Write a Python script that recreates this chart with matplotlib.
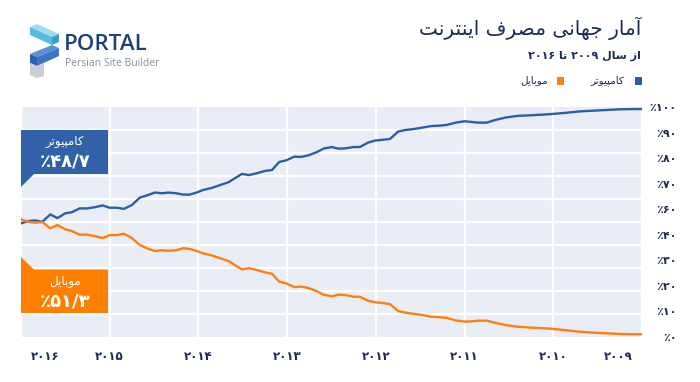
import matplotlib
matplotlib.use("Agg")
import matplotlib.pyplot as plt
import matplotlib.transforms as mtransforms
import numpy as np
from matplotlib.patches import Polygon, Rectangle

# ---------------- data ----------------
years = [2016.00, 2015.92, 2015.84, 2015.76, 2015.67, 2015.59, 2015.50, 2015.43, 2015.34, 2015.26,
         2015.17, 2015.08, 2015.00, 2014.92, 2014.84, 2014.75, 2014.66, 2014.57, 2014.49, 2014.41,
         2014.34, 2014.25, 2014.17, 2014.10, 2014.02, 2013.95, 2013.85, 2013.76, 2013.66, 2013.59,
         2013.51, 2013.43, 2013.34, 2013.25, 2013.17, 2013.09, 2013.01, 2012.92, 2012.84, 2012.76,
         2012.67, 2012.59, 2012.50, 2012.42, 2012.35, 2012.25, 2012.18, 2012.09, 2012.01, 2011.93,
         2011.84, 2011.75, 2011.67, 2011.58, 2011.48, 2011.38, 2011.28, 2011.20, 2011.10, 2011.00,
         2010.92, 2010.85, 2010.75, 2010.66, 2010.54, 2010.41, 2010.26, 2010.11, 2010.00, 2009.85,
         2009.70, 2009.55, 2009.40, 2009.25, 2009.10, 2009.00]
computer = [49.4, 50.4, 50.7, 50.1, 53.3, 51.7, 53.8, 54.2, 55.9, 55.9, 56.4, 57.2, 56.2, 56.2, 55.7,
            57.4, 60.6, 61.7, 62.8, 62.5, 62.8,
            62.5, 61.9, 61.9, 62.8, 63.9, 64.8, 66.0, 67.3, 69.0, 70.9, 70.4, 71.2, 72.2, 72.6, 76.1,
            76.8, 78.4, 78.3, 79.0, 80.3, 81.9,
            82.6, 81.9, 82.0, 82.6, 82.6, 84.5, 85.4, 85.7, 86.1, 89.3, 90.0, 90.4, 91.0, 91.7, 91.9,
            92.2, 93.2, 93.8, 93.5, 93.2,
            93.2, 94.3, 95.4, 96.1, 96.4, 96.7, 97.0, 97.5, 98.1, 98.4, 98.7, 99.0, 99.1, 99.1]
mobile = [51.2, 50.1, 49.7, 50.0, 47.2, 48.7, 46.8, 46.1, 44.5, 44.5, 43.9, 43.0, 44.3, 44.3, 44.9,
          43.0, 40.0, 38.4, 37.4, 37.7, 37.5,
          37.7, 38.6, 38.3, 37.4, 36.4, 35.5, 34.3, 33.0, 31.3, 29.4, 29.9, 29.1, 28.1, 27.5, 24.1,
          23.3, 21.7, 21.9, 21.3, 20.0, 18.4,
          17.7, 18.4, 18.3, 17.5, 17.5, 15.8, 15.1, 14.8, 14.3, 11.3, 10.6, 10.1, 9.6, 8.8, 8.6,
          8.3, 7.2, 6.7, 6.8, 7.1,
          7.1, 6.2, 5.2, 4.5, 4.1, 3.8, 3.5, 2.9, 2.3, 1.9, 1.6, 1.3, 1.2, 1.2]
x_tick_years = [2016, 2015, 2014, 2013, 2012, 2011, 2010, 2009]
x_tick_labels = ["۲۰۱۶", "۲۰۱۵", "۲۰۱۴", "۲۰۱۳", "۲۰۱۲", "۲۰۱۱", "۲۰۱۰", "۲۰۰۹"]
y_tick_labels = ["٪۰", "٪۱۰", "٪۲۰", "٪۳۰", "٪۴۰", "٪۶۰", "٪۷۰", "٪۸۰", "٪۹۰", "٪۱۰۰"]
title_text = "آمار جهانی مصرف اینترنت"
subtitle_text = "از سال ۲۰۰۹ تا ۲۰۱۶"
name_computer = "کامپیوتر"
name_mobile = "موبایل"
share_computer = "٪۴۸/۷"
share_mobile = "٪۵۱/۳"

# ---------------- simple Persian shaping ----------------
FORMS = {
    '\u0627': ('\uFE8D', '\uFE8E', None, None),
    '\u0622': ('\uFE81', '\uFE82', None, None),
    '\u0628': ('\uFE8F', '\uFE90', '\uFE91', '\uFE92'),
    '\u062A': ('\uFE95', '\uFE96', '\uFE97', '\uFE98'),
    '\u062C': ('\uFE9D', '\uFE9E', '\uFE9F', '\uFEA0'),
    '\u0631': ('\uFEAD', '\uFEAE', None, None),
    '\u0632': ('\uFEAF', '\uFEB0', None, None),
    '\u0633': ('\uFEB1', '\uFEB2', '\uFEB3', '\uFEB4'),
    '\u0635': ('\uFEB9', '\uFEBA', '\uFEBB', '\uFEBC'),
    '\u0641': ('\uFED1', '\uFED2', '\uFED3', '\uFED4'),
    '\u0644': ('\uFEDD', '\uFEDE', '\uFEDF', '\uFEE0'),
    '\u0645': ('\uFEE1', '\uFEE2', '\uFEE3', '\uFEE4'),
    '\u0646': ('\uFEE5', '\uFEE6', '\uFEE7', '\uFEE8'),
    '\u0647': ('\uFEE9', '\uFEEA', '\uFEEB', '\uFEEC'),
    '\u0648': ('\uFEED', '\uFEEE', None, None),
    '\u06CC': ('\uFBFC', '\uFBFD', '\uFBFE', '\uFBFF'),
    '\u067E': ('\uFB56', '\uFB57', '\uFB58', '\uFB59'),
    '\u06A9': ('\uFB8E', '\uFB8F', '\uFB90', '\uFB91'),
}


def shape_word(w):
    out = []
    n = len(w)
    for i, c in enumerate(w):
        if c not in FORMS:
            out.append(c)
            continue
        f = FORMS[c]
        prev = w[i - 1] if i > 0 else None
        nxt = w[i + 1] if i < n - 1 else None
        jp = prev in FORMS and FORMS[prev][2] is not None
        jn = f[2] is not None and nxt in FORMS
        if jp and jn:
            g = f[3]
        elif jp:
            g = f[1]
        elif jn:
            g = f[2]
        else:
            g = f[0]
        out.append(g)
    return ''.join(reversed(out))


def fa(text):
    vis = []
    for w in text.split(' '):
        if any(c in FORMS for c in w):
            vis.append(shape_word(w))
        else:
            vis.append(w)
    return ' '.join(reversed(vis))


plt.rcParams['font.family'] = ['DejaVu Sans']

NAVY = '#1c2a55'
BLUE = '#2c5ea6'
ORANGE = '#ff7f0c'
BG = '#e9eef6'

W, H = 700, 382
fig = plt.figure(figsize=(7.0, 3.82), dpi=100)
fig.patch.set_facecolor('white')

# main axes (pixel box: x 21..642, y 107..337)
ax = fig.add_axes([21 / W, 1 - 337 / H, (642 - 21) / W, (337 - 107) / H])
ax.set_facecolor(BG)
ax.plot(years, computer, color=BLUE, lw=1.7, zorder=3, solid_joinstyle='round')
ax.plot(years, mobile, color=ORANGE, lw=1.7, zorder=3, solid_joinstyle='round')
ax.set_xlim(2016.0, 2009.0)
ax.set_ylim(0, 100)
for s in ax.spines.values():
    s.set_visible(False)

ax.set_xticks(x_tick_years)
ax.set_xticklabels(x_tick_labels, fontsize=8.5, fontweight='bold', color=NAVY)
ax.tick_params(axis='x', length=0, pad=9)
lbls = ax.get_xticklabels()
lbls[0].set_ha('left')
lbls[0].set_transform(lbls[0].get_transform() + mtransforms.ScaledTranslation(10 / 100, 0, fig.dpi_scale_trans))
lbls[-1].set_ha('right')
lbls[-1].set_transform(lbls[-1].get_transform() + mtransforms.ScaledTranslation(-9 / 100, 0, fig.dpi_scale_trans))
ax.grid(axis='x', color='white', lw=1.6, zorder=1)

ax.yaxis.tick_right()
ax.set_yticks(np.linspace(0, 100, len(y_tick_labels)))
ax.set_yticklabels(y_tick_labels, fontsize=8, fontweight='bold', color=NAVY)
for t in ax.get_yticklabels():
    t.set_ha('right')
ax.tick_params(axis='y', length=0, pad=25)
ax.set_yticks(np.arange(0, 101, 10), minor=True)
ax.tick_params(axis='y', which='minor', length=0)
ax.grid(axis='y', which='minor', color='white', lw=1.6, zorder=1)
ax.grid(axis='y', which='major', visible=False)
ax.set_axisbelow(True)

# overlay for decorations in pixel coordinates
ov = fig.add_axes([0, 0, 1, 1])
ov.set_xlim(0, W)
ov.set_ylim(H, 0)
ov.axis('off')
ov.patch.set_alpha(0)

# callout boxes
ov.add_patch(Polygon([(21, 130), (108, 130), (108, 174), (34, 174), (21, 187)],
                     closed=True, facecolor='#3161a6', edgecolor='none'))
ov.add_patch(Polygon([(21, 257), (34, 269.5), (108, 269.5), (108, 313), (21, 313)],
                     closed=True, facecolor='#ff8000', edgecolor='none'))
ov.text(65, 142, fa(name_computer), color='white', fontsize=8.5, ha='center', va='center')
ov.text(65, 162, share_computer, color='white', fontsize=13, fontweight='bold', ha='center', va='center')
ov.text(65, 282, fa(name_mobile), color='white', fontsize=8.5, ha='center', va='center')
ov.text(65, 301, share_mobile, color='white', fontsize=13, fontweight='bold', ha='center', va='center')

# title / subtitle / legend
ov.text(641, 28, fa(title_text), color=NAVY, fontsize=14.5, ha='right', va='center')
ov.text(641, 56, fa(subtitle_text), color=NAVY, fontsize=8, fontweight='bold', ha='right', va='center')
ov.add_patch(Rectangle((634.5, 77), 7, 8, facecolor=BLUE, edgecolor='none'))
ov.text(624, 80.5, fa(name_computer), color=NAVY, fontsize=7.5, ha='right', va='center')
ov.add_patch(Rectangle((556.5, 77), 7, 8, facecolor=ORANGE, edgecolor='none'))
ov.text(548, 80.5, fa(name_mobile), color=NAVY, fontsize=7.5, ha='right', va='center')

# logo
ov.add_patch(Polygon([(30, 27), (37, 24), (59, 34), (52, 37)], facecolor='#9fdaee', edgecolor='none'))
ov.add_patch(Polygon([(30, 27), (52, 37), (52, 45), (30, 35)], facecolor='#55bbe0', edgecolor='none'))
ov.add_patch(Polygon([(52, 37), (59, 34), (59, 42), (52, 45)], facecolor='#3aa0cc', edgecolor='none'))
ov.add_patch(Polygon([(30, 54), (52, 45), (59, 48), (37, 57)], facecolor='#5b8fd6', edgecolor='none'))
ov.add_patch(Polygon([(30, 54), (37, 57), (37, 66), (30, 63)], facecolor='#2d5fb0', edgecolor='none'))
ov.add_patch(Polygon([(37, 57), (59, 48), (59, 56), (37, 66)], facecolor='#3e74c4', edgecolor='none'))
ov.add_patch(Polygon([(30, 63), (37, 66), (44, 63), (44, 76), (37, 78), (30, 75)], facecolor='#c9ced6', edgecolor='none'))
ov.text(64, 45, "PORTAL", color='#1f3f7f', fontsize=16, family=['Open Sans', 'DejaVu Sans'],
        fontweight='semibold', ha='left', va='center')
ov.text(65, 63, "Persian Site Builder", color='#8a8f96', fontsize=7.5, family=['Open Sans', 'DejaVu Sans'],
        ha='left', va='center')

fig.savefig('out.png', dpi=100, facecolor='white')
